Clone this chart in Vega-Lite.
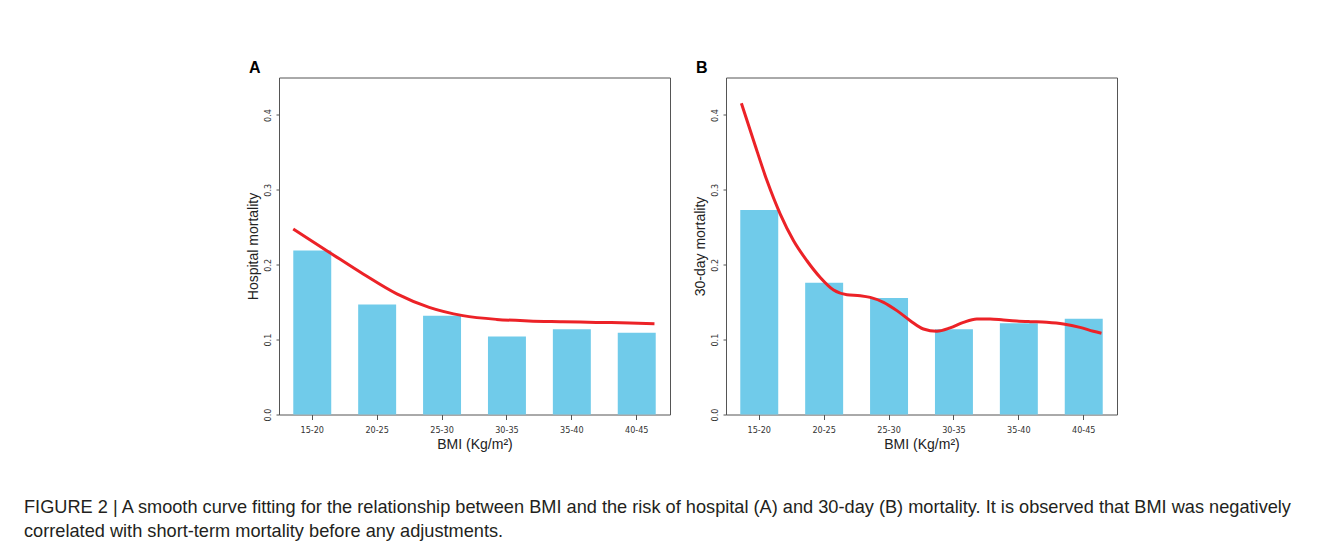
{
  "$schema": "https://vega.github.io/schema/vega-lite/v6.json",
  "background": "white",
  "padding": {"left": 24, "top": 58.5, "right": 10, "bottom": 0},
  "datasets": {
    "barsA": [
      {"bmi": "15-20", "rate": 0.219},
      {"bmi": "20-25", "rate": 0.147},
      {"bmi": "25-30", "rate": 0.132},
      {"bmi": "30-35", "rate": 0.104},
      {"bmi": "35-40", "rate": 0.114},
      {"bmi": "40-45", "rate": 0.109}
    ],
    "barsB": [
      {"bmi": "15-20", "rate": 0.273},
      {"bmi": "20-25", "rate": 0.176},
      {"bmi": "25-30", "rate": 0.1556},
      {"bmi": "30-35", "rate": 0.1138},
      {"bmi": "35-40", "rate": 0.1218},
      {"bmi": "40-45", "rate": 0.128}
    ],
    "curveA": [
      {"bmi": 16.0, "rate": 0.2476},
      {"bmi": 18.8, "rate": 0.2164},
      {"bmi": 21.4, "rate": 0.1876},
      {"bmi": 24.0, "rate": 0.161},
      {"bmi": 26.5, "rate": 0.143},
      {"bmi": 29.1, "rate": 0.132},
      {"bmi": 31.7, "rate": 0.127},
      {"bmi": 34.2, "rate": 0.125},
      {"bmi": 36.8, "rate": 0.124},
      {"bmi": 39.4, "rate": 0.123},
      {"bmi": 42.0, "rate": 0.1223},
      {"bmi": 43.9, "rate": 0.1213}
    ],
    "curveB": [
      {"bmi": 16.09, "rate": 0.4156},
      {"bmi": 17.04, "rate": 0.3653},
      {"bmi": 18.07, "rate": 0.312},
      {"bmi": 19.09, "rate": 0.2676},
      {"bmi": 20.12, "rate": 0.232},
      {"bmi": 21.15, "rate": 0.2053},
      {"bmi": 22.18, "rate": 0.183},
      {"bmi": 23.21, "rate": 0.1662},
      {"bmi": 24.24, "rate": 0.16},
      {"bmi": 25.27, "rate": 0.1587},
      {"bmi": 26.04, "rate": 0.1564},
      {"bmi": 27.07, "rate": 0.1498},
      {"bmi": 28.1, "rate": 0.1387},
      {"bmi": 29.13, "rate": 0.1253},
      {"bmi": 30.15, "rate": 0.1142},
      {"bmi": 31.18, "rate": 0.1111},
      {"bmi": 32.21, "rate": 0.1156},
      {"bmi": 33.24, "rate": 0.1231},
      {"bmi": 34.27, "rate": 0.1276},
      {"bmi": 35.3, "rate": 0.1276},
      {"bmi": 36.33, "rate": 0.1262},
      {"bmi": 37.36, "rate": 0.1249},
      {"bmi": 38.38, "rate": 0.124},
      {"bmi": 39.67, "rate": 0.1231},
      {"bmi": 40.96, "rate": 0.1209},
      {"bmi": 42.24, "rate": 0.1164},
      {"bmi": 43.27, "rate": 0.1111},
      {"bmi": 43.9, "rate": 0.1084}
    ]
  },
  "title": {
    "text": [
      "FIGURE 2 | A smooth curve fitting for the relationship between BMI and the risk of hospital (A) and 30-day (B) mortality. It is observed that BMI was negatively",
      "correlated with short-term mortality before any adjustments."
    ],
    "orient": "bottom",
    "anchor": "start",
    "frame": "group",
    "dx": -255,
    "offset": 47,
    "font": "Liberation Sans",
    "fontSize": 18.2,
    "fontWeight": "normal",
    "color": "#231F20",
    "lineHeight": 24
  },
  "spacing": 21,
  "hconcat": [
    {
      "title": {"text": "A", "anchor": "start", "fontSize": 16, "fontWeight": "bold", "font": "Liberation Sans", "offset": 2, "dx": 3, "color": "#000"},
      "width": 391,
      "height": 337,
      "resolve": {"scale": {"x": "independent"}},
      "layer": [
        {
          "data": {"name": "barsA"},
          "mark": {"type": "bar", "color": "#70CBEA"},
          "encoding": {
            "x": {"field": "bmi", "type": "ordinal", "sort": null,
                  "scale": {"paddingInner": 0.415, "paddingOuter": 0.22},
                  "axis": {"title": "BMI (Kg/m²)"}},
            "y": {"field": "rate", "type": "quantitative",
                  "scale": {"domain": [0, 0.45], "nice": false},
                  "axis": {"title": "Hospital mortality", "values": [0, 0.1, 0.2, 0.3, 0.4], "format": ".1f"}}
          }
        },
        {
          "data": {"name": "curveA"},
          "mark": {"type": "line", "color": "#EC2227", "strokeWidth": 3, "interpolate": "monotone"},
          "encoding": {
            "x": {"field": "bmi", "type": "quantitative", "scale": {"domain": [14.9, 45.1], "nice": false, "zero": false}, "axis": null},
            "y": {"field": "rate", "type": "quantitative"}
          }
        }
      ]
    },
    {
      "title": {"text": "B", "anchor": "start", "fontSize": 16, "fontWeight": "bold", "font": "Liberation Sans", "offset": 2, "dx": 3, "color": "#000"},
      "width": 391,
      "height": 337,
      "resolve": {"scale": {"x": "independent"}},
      "layer": [
        {
          "data": {"name": "barsB"},
          "mark": {"type": "bar", "color": "#70CBEA"},
          "encoding": {
            "x": {"field": "bmi", "type": "ordinal", "sort": null,
                  "scale": {"paddingInner": 0.415, "paddingOuter": 0.22},
                  "axis": {"title": "BMI (Kg/m²)"}},
            "y": {"field": "rate", "type": "quantitative",
                  "scale": {"domain": [0, 0.45], "nice": false},
                  "axis": {"title": "30-day mortality", "values": [0, 0.1, 0.2, 0.3, 0.4], "format": ".1f"}}
          }
        },
        {
          "data": {"name": "curveB"},
          "mark": {"type": "line", "color": "#EC2227", "strokeWidth": 3, "interpolate": "monotone"},
          "encoding": {
            "x": {"field": "bmi", "type": "quantitative", "scale": {"domain": [14.9, 45.1], "nice": false, "zero": false}, "axis": null},
            "y": {"field": "rate", "type": "quantitative"}
          }
        }
      ]
    }
  ],
  "config": {
    "view": {"stroke": "#555", "strokeWidth": 1},
    "axis": {
      "grid": false,
      "domain": false,
      "tickColor": "#555",
      "labelColor": "#333",
      "labelFont": "Liberation Sans Narrow, DejaVu Sans Condensed, Liberation Sans",
      "labelFontSize": 9,
      "titleFont": "Liberation Sans",
      "titleFontSize": 14,
      "titleFontWeight": "normal",
      "titleColor": "#222"
    },
    "axisX": {"tickSize": 5, "labelPadding": 6, "labelAngle": 0, "titlePadding": 3},
    "axisY": {"tickSize": 3, "labelPadding": 4, "labelAngle": -90, "titlePadding": 3}
  }
}
